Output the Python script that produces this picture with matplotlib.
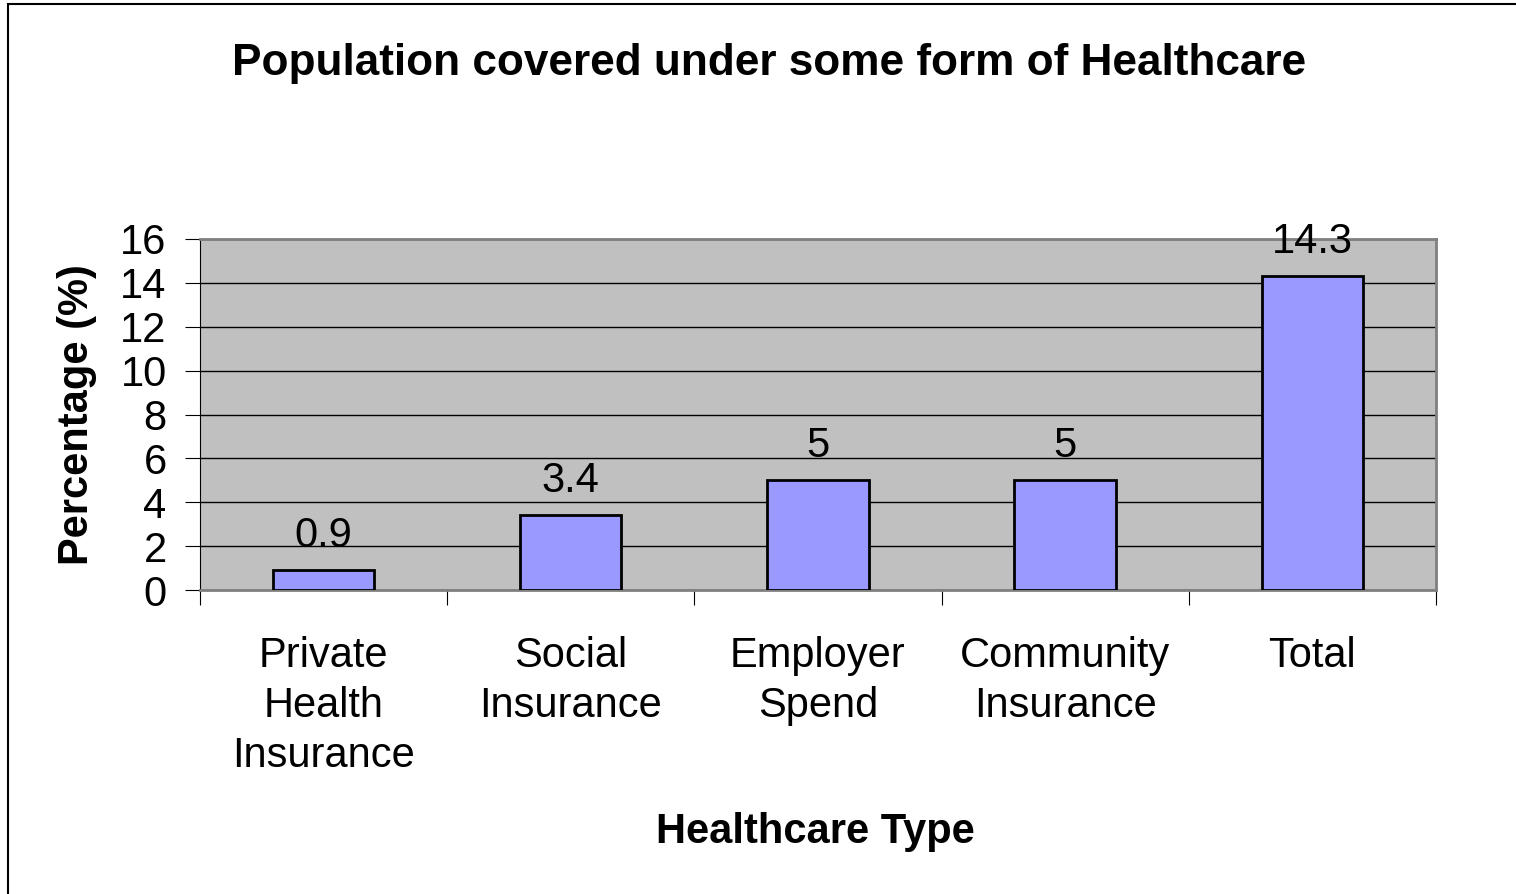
import matplotlib
matplotlib.use("Agg")
import matplotlib.pyplot as plt
from matplotlib.patches import Rectangle

categories = ["Private\nHealth\nInsurance", "Social\nInsurance", "Employer\nSpend",
              "Community\nInsurance", "Total"]
values = [0.9, 3.4, 5, 5, 14.3]
value_labels = ["0.9", "3.4", "5", "5", "14.3"]
yticks = [0, 2, 4, 6, 8, 10, 12, 14, 16]

plt.rcParams['font.family'] = ['Liberation Sans', 'DejaVu Sans']

fig = plt.figure(figsize=(15.16, 8.94), dpi=100)
ax = fig.add_axes([0.1319, 0.340, 0.8153, 0.3927])

# outer chart border (runs off the right and bottom edges)
fig.patches.append(Rectangle((8 / 1516, -0.05), 1.1, 1 - 4 / 894 + 0.05,
                             transform=fig.transFigure, fill=False,
                             edgecolor="black", linewidth=1.5))

x = list(range(len(values)))
ax.set_facecolor("#C0C0C0")
ax.bar(x, values, width=0.41, color="#9999FF", edgecolor="black", linewidth=2, zorder=3)

for xi, v, lab in zip(x, values, value_labels):
    ax.annotate(lab, (xi, v), xytext=(0, 17), textcoords="offset points",
                ha="center", va="baseline", fontsize=30)

ax.set_xlim(-0.5, len(values) - 0.5)
ax.set_ylim(0, 16)
ax.set_yticks(yticks)
ax.set_yticklabels([str(t) for t in yticks], fontsize=30)
ax.yaxis.grid(True, color="black", linewidth=1)
ax.set_axisbelow(True)

ax.set_xticks([i + 0.5 for i in range(-1, len(values))], minor=False)
ax.set_xticklabels([])
ax.set_xticks(x, minor=True)
ax.set_xticklabels(categories, minor=True, fontsize=30, linespacing=1.33)
ax.tick_params(axis="x", which="minor", length=0, pad=33)
ax.tick_params(axis="x", which="major", length=11, direction="out", color="black")
ax.tick_params(axis="y", length=11, direction="out", pad=13, color="black")

for side in ["top", "right", "bottom"]:
    ax.spines[side].set_color("#808080")
    ax.spines[side].set_linewidth(2)
ax.spines["left"].set_color("black")

fig.text(77 / 1516, 1 - 415 / 894, "Percentage (%)", rotation=90,
         ha="center", va="center", fontsize=30, fontweight="bold")
fig.text(815 / 1516, 1 - 832 / 894, "Healthcare Type",
         ha="center", va="center", fontsize=30, fontweight="bold")
fig.text(769 / 1516, 1 - 63 / 894, "Population covered under some form of Healthcare",
         ha="center", va="center", fontsize=31.8, fontweight="bold")

fig.savefig("out.png", dpi=100)
